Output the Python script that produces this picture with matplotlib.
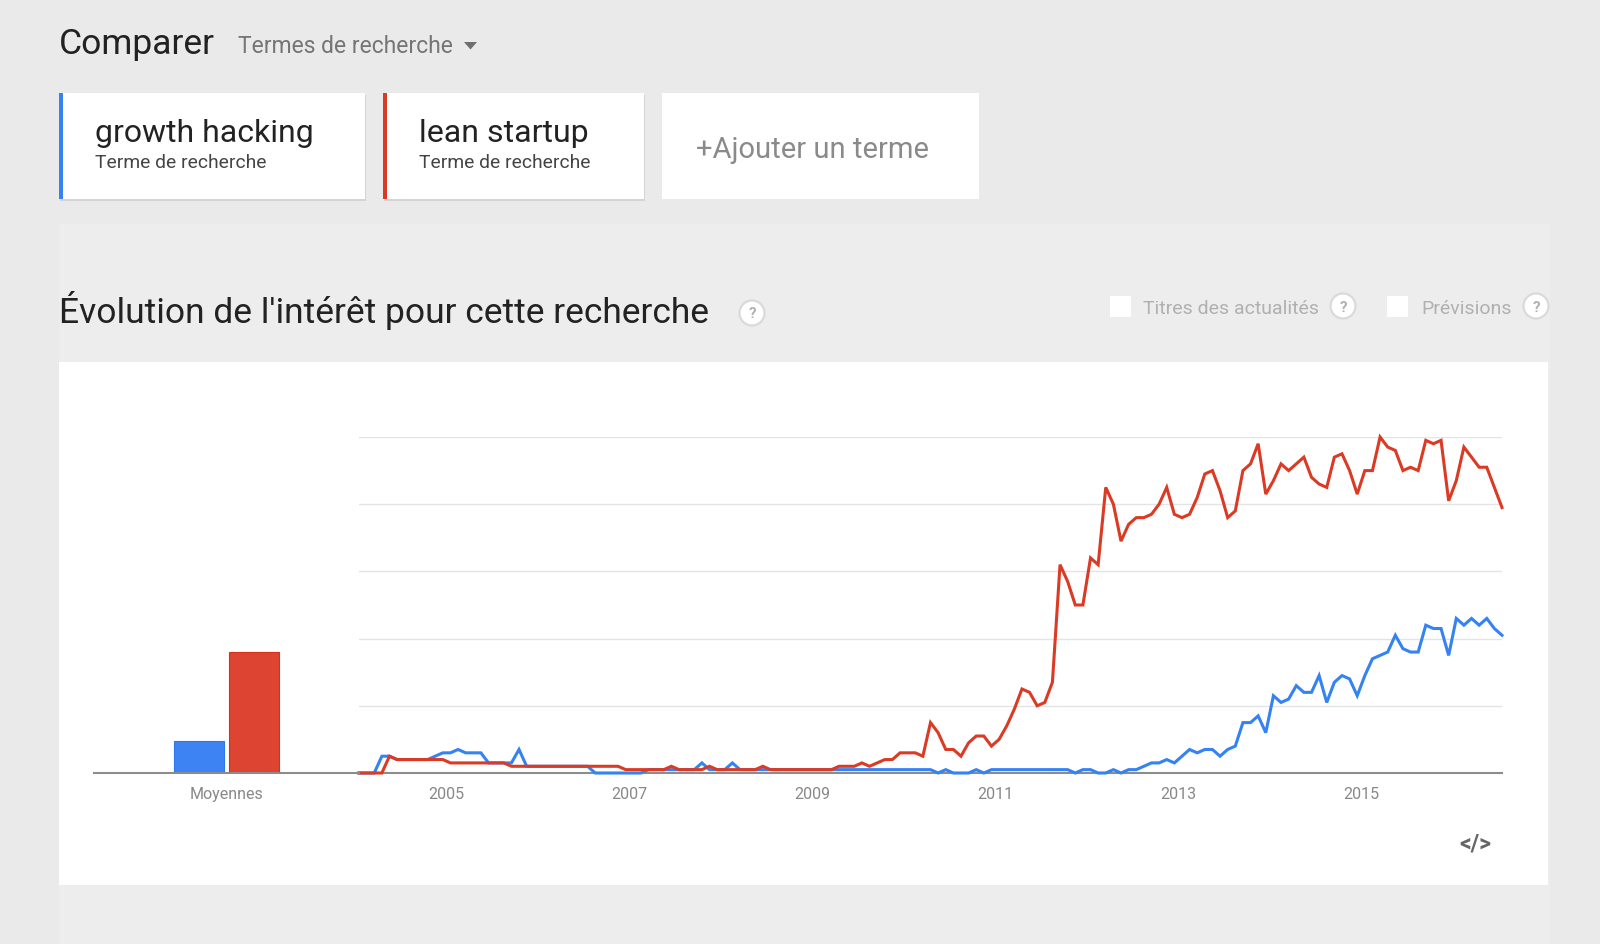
import numpy as np
import matplotlib
matplotlib.use("Agg")
import matplotlib.pyplot as plt
from matplotlib.patches import Rectangle, Circle, Polygon

# ---------------- data ----------------
terms = ["growth hacking", "lean startup"]
start_year = 2004
year_labels = [2005, 2007, 2009, 2011, 2013, 2015]

growth_hacking = [0, 0, 0, 5, 5, 4, 4, 4, 4, 4, 5, 6,            # 2004
                  6, 7, 6, 6, 6, 3, 3, 3, 3, 7, 2, 2,            # 2005
                  2, 2, 2, 2, 2, 2, 2, 0, 0, 0, 0, 0,            # 2006
                  0, 0, 1, 1, 1, 1, 1, 1, 1, 3, 1, 1,            # 2007
                  1, 3, 1, 1, 1, 1, 1, 1, 1, 1, 1, 1,            # 2008
                  1, 1, 1, 1, 1, 1, 1, 1, 1, 1, 1, 1,            # 2009
                  1, 1, 1, 1, 0, 1, 0, 0, 0, 1, 0, 1,            # 2010
                  1, 1, 1, 1, 1, 1, 1, 1, 1, 1, 0, 1,            # 2011
                  1, 0, 0, 1, 0, 1, 1, 2, 3, 3, 4, 3,            # 2012
                  5, 7, 6, 7, 7, 5, 7, 8, 15, 15, 17, 12,        # 2013
                  23, 21, 22, 26, 24, 24, 29, 21, 27, 29, 28, 23,  # 2014
                  29, 34, 35, 36, 41, 37, 36, 36, 44, 43, 43, 35,  # 2015
                  46, 44, 46, 44, 46, 43, 41]                    # 2016

lean_startup = [0, 0, 0, 0, 5, 4, 4, 4, 4, 4, 4, 4,              # 2004
                3, 3, 3, 3, 3, 3, 3, 3, 2, 2, 2, 2,              # 2005
                2, 2, 2, 2, 2, 2, 2, 2, 2, 2, 2, 1,              # 2006
                1, 1, 1, 1, 1, 2, 1, 1, 1, 1, 2, 1,              # 2007
                1, 1, 1, 1, 1, 2, 1, 1, 1, 1, 1, 1,              # 2008
                1, 1, 1, 2, 2, 2, 3, 2, 3, 4, 4, 6,              # 2009
                6, 6, 5, 15, 12, 7, 7, 5, 9, 11, 11, 8,          # 2010
                10, 14, 19, 25, 24, 20, 21, 27, 62, 57, 50, 50,  # 2011
                64, 62, 85, 80, 69, 74, 76, 76, 77, 80, 85, 77,  # 2012
                76, 77, 82, 89, 90, 84, 76, 78, 90, 92, 98, 83,  # 2013
                87, 92, 90, 92, 94, 88, 86, 85, 94, 95, 90, 83,  # 2014
                90, 90, 100, 97, 96, 90, 91, 90, 99, 98, 99, 81,  # 2015
                87, 97, 94, 91, 91, 85, 79]                      # 2016

averages = [9.5, 36]
avg_label = "Moyennes"

# ---------------- style ----------------
BLUE = "#3583f2"
RED = "#db3a24"
BLUE_BAR = "#3d83f4"
RED_BAR = "#dd4431"
W, H = 1600, 945
FONT = ["Roboto", "DejaVu Sans"]
plt.rcParams["font.family"] = FONT

fig = plt.figure(figsize=(W / 100, H / 100), dpi=100)
fig.patch.set_facecolor("#eaeaea")

# background / page layer in pixel coordinates
bg = fig.add_axes([0, 0, 1, 1])
bg.set_xlim(0, W)
bg.set_ylim(H, 0)
bg.axis("off")

# lower section panel
bg.add_patch(Rectangle((59, 225), 1491, 720, facecolor="#ededed", edgecolor="none"))
# white chart panel
bg.add_patch(Rectangle((59, 363), 1489, 523, facecolor="white", edgecolor="none"))

# header
bg.text(59, 54, "Comparer", fontsize=25.5, color="#222222", va="baseline", ha="left")
bg.text(238, 53, "Termes de recherche", fontsize=16.5, color="#757575", va="baseline", ha="left")
bg.add_patch(Polygon([(464, 43), (477, 43), (470.5, 50.5)], closed=True,
                     facecolor="#6f6f6f", edgecolor="none"))

# term cards
cards = [(59, 365, BLUE, terms[0]), (383, 644, RED, terms[1])]
for x0, x1, col, label in cards:
    bg.add_patch(Rectangle((x0 + 1, 96), x1 - x0, 106, facecolor="#d4d4d4", edgecolor="none"))
    bg.add_patch(Rectangle((x0, 94), x1 - x0, 106, facecolor="white", edgecolor="none"))
    bg.add_patch(Rectangle((x0, 94), 4, 106, facecolor=col, edgecolor="none"))
    bg.text(x0 + 36, 141.5, label, fontsize=23, color="#222222", va="baseline", ha="left")
    bg.text(x0 + 36, 167.5, "Terme de recherche", fontsize=13.9, color="#444444",
            va="baseline", ha="left")

bg.add_patch(Rectangle((662, 94), 317, 106, facecolor="white", edgecolor="none"))
bg.text(696, 157.5, "+Ajouter un terme", fontsize=21, color="#8a8a8a", va="baseline",
        ha="left")

# section title
bg.text(59, 322.5, "Évolution de l'intérêt pour cette recherche", fontsize=25.5,
        color="#222222", va="baseline", ha="left")


def help_icon(x, y):
    bg.add_patch(Circle((x, y), 12.5, facecolor="white", edgecolor="#dadada", lw=1.6))
    bg.text(x, y + 0.5, "?", fontsize=11, color="#b0b0b0", fontweight="bold",
            ha="center", va="center")


help_icon(752, 314)
bg.add_patch(Rectangle((1110, 297), 21, 21, facecolor="white", edgecolor="none"))
bg.text(1143, 314, "Titres des actualités", fontsize=14, color="#b0b0b0",
        va="baseline", ha="left")
help_icon(1343, 307)
bg.add_patch(Rectangle((1387, 297), 21, 21, facecolor="white", edgecolor="none"))
bg.text(1421, 314, "Prévisions", fontsize=14, color="#b0b0b0", va="baseline", ha="left")
help_icon(1536, 307)

bg.text(1475, 844, "</>", fontsize=16.5, color="#666666", fontweight="bold",
        ha="center", va="center")

# ---------------- line chart ----------------
px_left, px_right, px_base, px_top = 359, 1502, 774, 438
ax = fig.add_axes([px_left / W, 1 - px_base / H, (px_right - px_left) / W,
                   (px_base - px_top) / H])
ax.set_facecolor("none")
n = len(lean_startup)
x = np.arange(n)
ax.plot(x, growth_hacking, color=BLUE, lw=2.2, zorder=3, clip_on=False,
        solid_joinstyle="miter")
ax.plot(x, lean_startup, color=RED, lw=2.2, zorder=4, clip_on=False,
        solid_joinstyle="miter")
ax.set_xlim(0, n - 1)
ax.set_ylim(0, 100)
ax.set_yticks([20, 40, 60, 80, 100])
ax.yaxis.grid(True, color="#e4e4e4", lw=1.0)
ax.set_axisbelow(True)
ax.tick_params(axis="y", length=0, labelleft=False)
tick_pos = [(yr - start_year) * 12 - 0.5 for yr in year_labels]
ax.set_xticks(tick_pos)
ax.set_xticklabels([str(yr) for yr in year_labels])
ax.tick_params(axis="x", length=0, pad=9.5, labelsize=11.5, labelcolor="#888888")
for s in ["top", "left", "right"]:
    ax.spines[s].set_visible(False)
ax.spines["bottom"].set_color("#8c8c8c")
ax.spines["bottom"].set_linewidth(1.5)

# ---------------- average bars ----------------
bx_left = 94
bax = fig.add_axes([bx_left / W, 1 - px_base / H, (px_left - bx_left) / W,
                    (px_base - px_top) / H])
bax.set_facecolor("none")
bax.set_xlim(-0.5, 0.5)
bax.set_ylim(0, 100)
offsets = [-0.103, 0.103]
bar_cols = [(BLUE_BAR, "#2f77ee"), (RED_BAR, "#d6301c")]
for off, val, (fc, ec) in zip(offsets, averages, bar_cols):
    bax.bar(off, val, width=0.19, color=fc, edgecolor=ec, linewidth=0.8, zorder=2)
bax.set_xticks([0])
bax.set_xticklabels([avg_label])
bax.tick_params(axis="x", length=0, pad=9.5, labelsize=11.5, labelcolor="#888888")
bax.set_yticks([])
for s in ["top", "left", "right"]:
    bax.spines[s].set_visible(False)
bax.spines["bottom"].set_color("#8c8c8c")
bax.spines["bottom"].set_linewidth(1.5)
bax.spines["bottom"].set_zorder(3)

fig.savefig("out.png", dpi=100, facecolor=fig.get_facecolor())
